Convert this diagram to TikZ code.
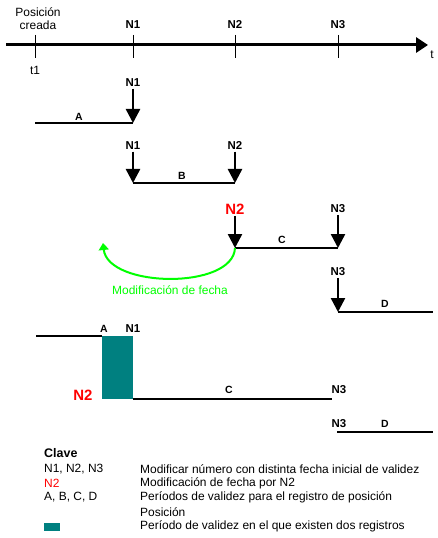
\documentclass[tikz,border=0pt]{standalone}
\usepackage{fontspec}
\setmainfont{Liberation Sans}
\usetikzlibrary{arrows.meta}

\definecolor{lime}{RGB}{0,255,0}
\definecolor{regteal}{RGB}{0,128,128}

\tikzset{
    txt/.style={font=\fontsize{12}{13}\selectfont, inner sep=0pt},
    lbl/.style={font=\fontsize{11.5}{12}\selectfont\bfseries, inner sep=1.5bp},
    bigred/.style={font=\fontsize{15}{16}\selectfont\bfseries, text=red, inner sep=1.5bp},
    seg/.style={font=\fontsize{10.5}{11}\selectfont\bfseries, inner sep=0pt},
    stem/.style={line width=2.5bp, -{Triangle[width=14bp,length=14bp]}},
    period/.style={line width=2bp},
    tick/.style={line width=1bp}
}

\begin{document}
\begin{tikzpicture}[x=1bp,y=-1bp]
    \useasboundingbox (0,0) rectangle (438,538);

    % Define the points on the time axis
    \coordinate (S) at (6,45);
    \coordinate (T) at (428,45);
    \coordinate (t1) at (35,45);
    \coordinate (n1) at (133,45);
    \coordinate (n2) at (235,45);
    \coordinate (n3) at (338,45);

    % Draw the time axis
    \draw[line width=3bp, -{Triangle[width=15bp,length=12bp]}] (S) -- (T);

    % Draw the ticks
    \foreach \p in {t1,n1,n2,n3}
        \draw[tick] (\p) ++(0,-10) -- ++(0,23);

    % Labels of the axis
    \node[txt, align=center] (created) at (38,18.5) {Posición\\creada};
    \node[lbl] (axN1) at (133,25) {N1};
    \node[lbl] (axN2) at (235,25) {N2};
    \node[lbl] (axN3) at (338,25) {N3};
    \node[txt] (tlbl) at (432,55) {t};
    \node[txt] (t1lbl) at (35,70) {t1};

    % Period A
    \coordinate (A0) at (35,123);
    \coordinate (A1) at (133,123);
    \node[lbl] (rA) at (133,83) {N1};
    \draw[stem] (rA) -- (A1);
    \draw[period] (A0) -- (A1);
    \node[seg] (segA) at (79,117) {A};

    % Period B
    \coordinate (B0) at (133,183);
    \coordinate (B1) at (235,183);
    \node[lbl] (rB0) at (133,146) {N1};
    \node[lbl] (rB1) at (235,146) {N2};
    \draw[stem] (rB0) -- (B0);
    \draw[stem] (rB1) -- (B1);
    \draw[period] (B0) -- (B1);
    \node[seg] (segB) at (182,176) {B};

    % Period C
    \coordinate (C0) at (235,248);
    \coordinate (C1) at (338,248);
    \node[bigred] (rC0) at (235,209) {N2};
    \node[lbl] (rC1) at (338,209) {N3};
    \draw[stem] (rC0) -- (C0);
    \draw[stem] (rC1) -- (C1);
    \draw[period] (C0) -- (C1);
    \node[seg] (segC) at (282,240) {C};

    % Date change
    \coordinate (G) at (103,243);
    \draw[lime, line width=2bp, -{Triangle[width=10bp,length=7bp]}]
        (C0) .. controls (233,290) and (108,288) .. (G);
    \node[txt, text=lime] (change) at (170,290) {Modificación de fecha};

    % Period D
    \coordinate (D0) at (338,312);
    \coordinate (D1) at (433,312);
    \node[lbl] (rD) at (338,272) {N3};
    \draw[stem] (rD) -- (D0);
    \draw[period] (D0) -- (D1);
    \node[seg] (segD) at (385,304) {D};

    % Result with two records
    \coordinate (E0) at (36,336);
    \coordinate (E1) at (102,336);
    \coordinate (F0) at (133,399);
    \coordinate (F1) at (332,399);
    \fill[regteal] (E1) rectangle (F0);
    \draw[period] (E0) -- (E1);
    \draw[period] (F0) -- (F1);
    \node[seg] (resA) at (104,329) {A};
    \node[lbl] (resN1) at (133,329) {N1};
    \node[bigred] (resN2) at (83,395) {N2};
    \node[seg] (resC) at (229,390) {C};
    \node[lbl] (resN3) at (339,390) {N3};

    \coordinate (H0) at (337,432);
    \coordinate (H1) at (433,432);
    \draw[period] (H0) -- (H1);
    \node[lbl] (lastN3) at (339,424) {N3};
    \node[seg] (lastD) at (385,424) {D};

    % Key
    \coordinate (K0) at (44,523);
    \coordinate (K1) at (60,531);
    \node[font=\fontsize{12.5}{13}\selectfont\bfseries, inner sep=0pt, anchor=west] (key) at (44,453) {Clave};
    \node[txt, anchor=west] (k1) at (44,469) {N1, N2, N3};
    \node[txt, anchor=west, text=red] (k2) at (44,483) {N2};
    \node[txt, anchor=west] (k3) at (44,497) {A, B, C, D};
    \fill[regteal] (K0) rectangle (K1);
    \node[txt, anchor=west] (d1) at (140,469) {Modificar número con distinta fecha inicial de validez};
    \node[txt, anchor=west] (d2) at (140,483) {Modificación de fecha por N2};
    \node[txt, anchor=west] (d3) at (140,497) {Períodos de validez para el registro de posición};
    \node[txt, anchor=west] (d4) at (140,512) {Posición};
    \node[txt, anchor=west] (d5) at (140,526) {Período de validez en el que existen dos registros};

\end{tikzpicture}
\end{document}
